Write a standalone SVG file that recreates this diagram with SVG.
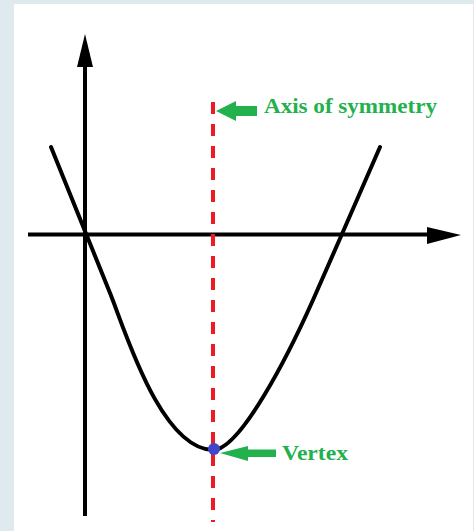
<svg xmlns="http://www.w3.org/2000/svg" width="474" height="531" viewBox="0 0 474 531">
<style>
.ax{stroke:#000;stroke-width:4;fill:none}
.head{fill:#000}
.curve{stroke:#000;stroke-width:4;fill:none;stroke-linejoin:round;stroke-linecap:round}
.sym{stroke:#ed1c24;stroke-width:4;stroke-dasharray:12 10;fill:none}
.garrow{fill:#22b14c}
.lbl{font-family:"Liberation Serif","Times New Roman",serif;font-weight:bold;font-size:22px;fill:#22b14c}
</style>
<rect x="0" y="0" width="474" height="531" fill="#dfeaee"/>
<rect x="14" y="4" width="459" height="527" fill="#fff"/>
<g id="axes">
<line class="ax" x1="85" y1="60" x2="85" y2="516"/>
<polygon class="head" points="85,34 93,67 77,67"/>
<line class="ax" x1="28" y1="234.5" x2="430" y2="234.5"/>
<polygon class="head" points="461,235 427,227 427,244"/>
</g>
<g id="parabola">
<path class="curve" d="M51,147 L110,293 C124,327 160,449 213,450 C240,450 288,356 313,300 L342,234 L380,147"/>
</g>
<g id="axis-of-symmetry">
<line class="sym" x1="213" y1="102" x2="213" y2="522"/>
</g>
<g id="vertex">
<circle cx="214" cy="449" r="6" fill="#3f48cc"/>
</g>
<g id="connectors">
<polygon class="garrow" points="216,111 236,101 236,106 257,106 257,116 236,116 236,121"/>
<polygon class="garrow" points="220,453 248,446 248,449.5 276,449.5 276,457 248,457 248,461"/>
</g>
<g id="labels">
<text class="lbl" x="264" y="113" textLength="173" lengthAdjust="spacingAndGlyphs">Axis of symmetry</text>
<text class="lbl" x="282" y="460" textLength="66" lengthAdjust="spacingAndGlyphs">Vertex</text>
</g>
</svg>
